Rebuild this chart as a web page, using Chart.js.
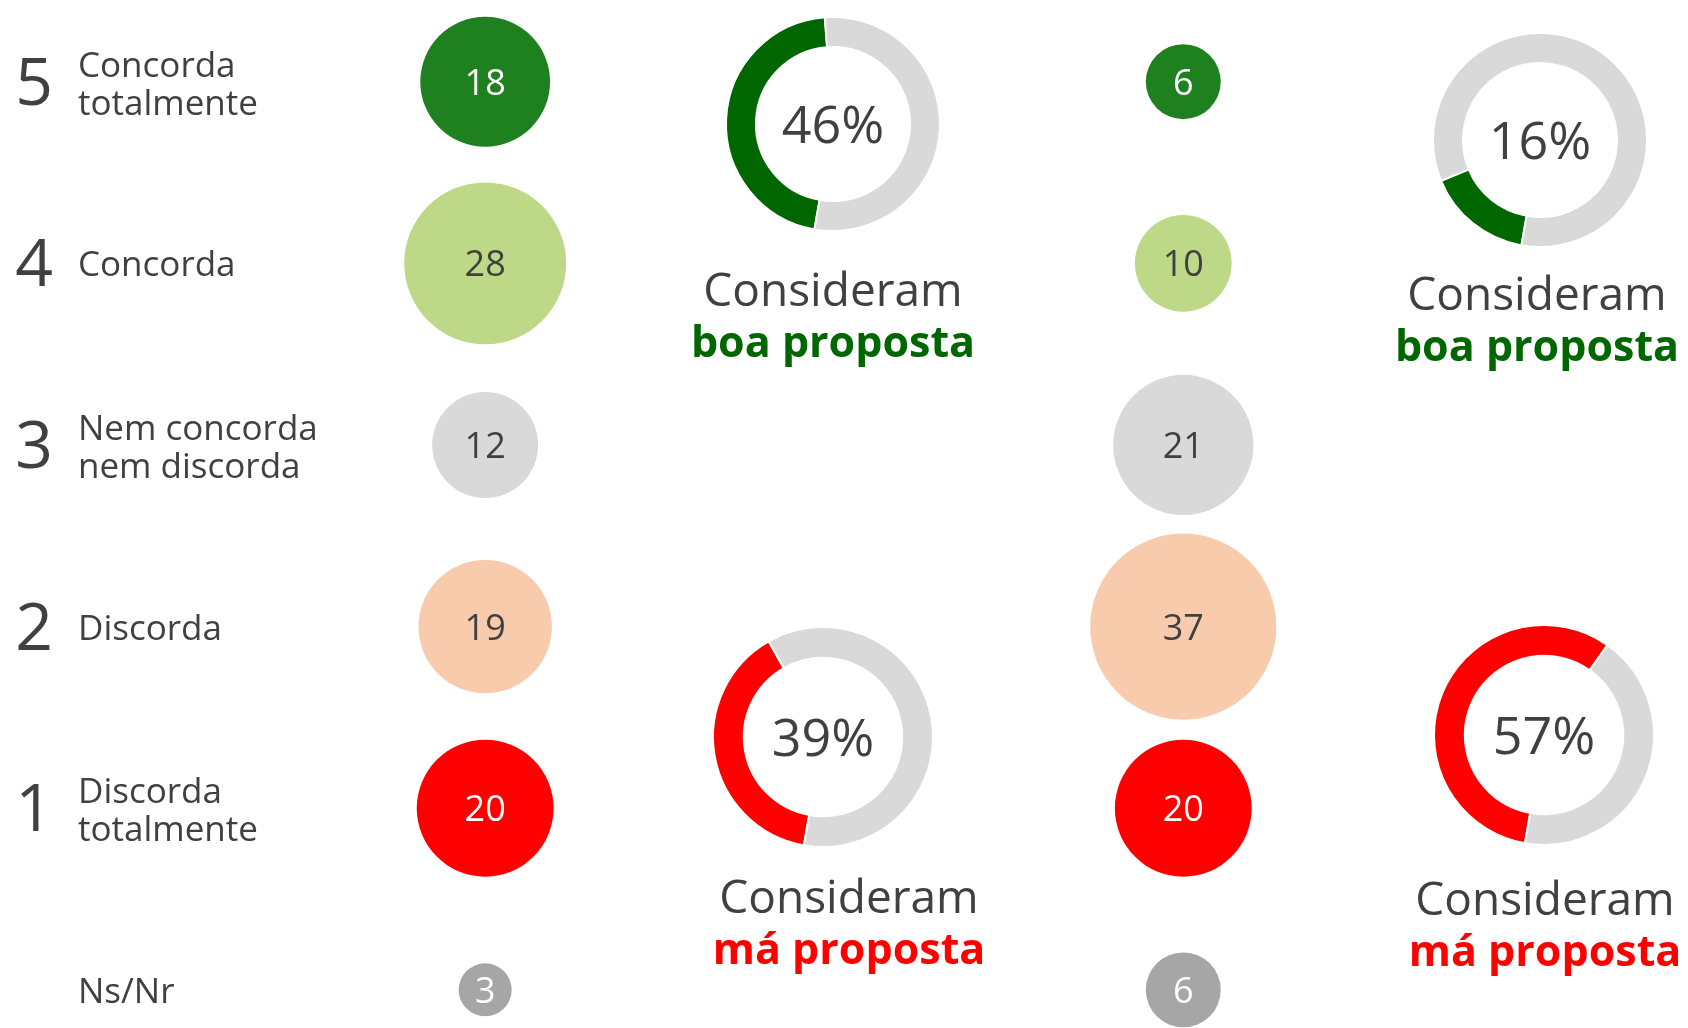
<!DOCTYPE html>
<html lang="pt">
<head>
<meta charset="utf-8">
<title>Proposta</title>
<script src="https://cdn.jsdelivr.net/npm/chart.js@4.4.1/dist/chart.umd.min.js"></script>
<style>
    body { margin: 0; background: #fff; }
    #painel { position: relative; width: 1688px; height: 1028px; overflow: hidden; }
    #painel canvas { position: absolute; }
</style>
</head>
<body>
<div id="painel">
    <canvas id="bolhas" width="1688" height="1028" style="left:0;top:0"></canvas>
    <canvas id="rosca1" width="240" height="240" style="left:713px;top:4px"></canvas>
    <canvas id="rosca2" width="240" height="240" style="left:1420px;top:20px"></canvas>
    <canvas id="rosca3" width="240" height="240" style="left:703px;top:617px"></canvas>
    <canvas id="rosca4" width="240" height="240" style="left:1424px;top:615px"></canvas>
</div>
<script>
// dados
const categorias = [['Concorda', 'totalmente'], ['Concorda'], ['Nem concorda', 'nem discorda'], ['Discorda'], ['Discorda', 'totalmente'], ['Ns/Nr']]
const escala = ['5', '4', '3', '2', '1', '']
const valoresY = [5, 4, 3, 2, 1, 0]
const grupo1 = [18, 28, 12, 19, 20, 3]
const grupo2 = [6, 10, 21, 37, 20, 6]
const boaProposta = [46, 16]
const maProposta = [39, 57]

const coresBolha = ['#1f801f', '#bdd887', '#d9d9d9', '#f8cbad', '#ff0000', '#a6a6a6']
const corTextoBolha = ['#fff', '#404040', '#404040', '#404040', '#fff', '#fff']
const cinza = '#404040'
const fonte = '"Open Sans", sans-serif'

// legendas abaixo das roscas
const legendas = [
    { x: 833, y: 306, txt: 'boa proposta', cor: '#006600' },
    { x: 1537, y: 310, txt: 'boa proposta', cor: '#006600' },
    { x: 849, y: 913, txt: 'má proposta', cor: '#ff0000' },
    { x: 1545, y: 915, txt: 'má proposta', cor: '#ff0000' }
]

const raio = v => 15.3 * Math.sqrt(v)

function pontos(valores, coluna) {
    return valores.map((v, i) => ({ x: coluna, y: valoresY[i], r: raio(v), valor: v }))
}

const textosPlugin = {
    id: 'textos',
    afterDatasetsDraw(chart) {
        const ctx = chart.ctx
        const y = chart.scales.y
        ctx.save()
        ctx.textAlign = 'center'
        ctx.textBaseline = 'alphabetic'
        // valores dentro das bolhas
        chart.data.datasets.forEach((ds, d) => {
            chart.getDatasetMeta(d).data.forEach((el, i) => {
                ctx.font = '36px ' + fonte
                ctx.fillStyle = corTextoBolha[i]
                ctx.fillText(ds.data[i].valor, el.x, el.y + 13)
            })
        })
        // rótulos à esquerda
        valoresY.forEach((v, i) => {
            const py = y.getPixelForValue(v)
            ctx.fillStyle = cinza
            ctx.textAlign = 'center'
            ctx.font = '66px ' + fonte
            if (escala[i]) ctx.fillText(escala[i], 34, py + 23)
            ctx.textAlign = 'left'
            ctx.font = '35px ' + fonte
            const linhas = categorias[i]
            if (linhas.length === 2) {
                ctx.fillText(linhas[0], 78, py - 5)
                ctx.fillText(linhas[1], 78, py + 33)
            } else {
                ctx.fillText(linhas[0], 78, py + 13)
            }
        })
        // legendas das roscas
        ctx.textAlign = 'center'
        legendas.forEach(l => {
            ctx.fillStyle = cinza
            ctx.font = '46px ' + fonte
            ctx.fillText('Consideram', l.x, l.y)
            ctx.fillStyle = l.cor
            ctx.font = 'bold 43px ' + fonte
            ctx.fillText(l.txt, l.x, l.y + 51)
        })
        ctx.restore()
    }
}

new Chart(document.getElementById('bolhas'), {
    type: 'bubble',
    data: {
        datasets: [
            { data: pontos(grupo1, 0), backgroundColor: coresBolha, borderWidth: 0 },
            { data: pontos(grupo2, 1), backgroundColor: coresBolha, borderWidth: 0 }
        ]
    },
    options: {
        responsive: false,
        animation: false,
        layout: { padding: 0, autoPadding: false },
        scales: {
            x: { type: 'linear', display: false, min: -0.695, max: 1.723 },
            y: { type: 'linear', display: false, min: -0.21, max: 5.45 }
        },
        plugins: { legend: { display: false }, tooltip: { enabled: false } }
    },
    plugins: [textosPlugin]
})

const centroPlugin = {
    id: 'centro',
    afterDraw(chart) {
        const arco = chart.getDatasetMeta(0).data[0]
        const ctx = chart.ctx
        ctx.save()
        ctx.fillStyle = cinza
        ctx.font = '52px ' + fonte
        ctx.textAlign = 'center'
        ctx.textBaseline = 'alphabetic'
        ctx.fillText(chart.data.datasets[0].data[0] + '%', arco.x, arco.y + 19)
        ctx.restore()
    }
}

function rosca(id, pct, cor, r) {
    new Chart(document.getElementById(id), {
        type: 'doughnut',
        data: {
            datasets: [{
                data: [pct, 100 - pct],
                backgroundColor: [cor, '#d9d9d9'],
                borderColor: '#fff',
                borderWidth: 2
            }]
        },
        options: {
            responsive: false,
            animation: false,
            rotation: 190,
            radius: r,
            cutout: '72%',
            plugins: { legend: { display: false }, tooltip: { enabled: false } }
        },
        plugins: [centroPlugin]
    })
}

rosca('rosca1', boaProposta[0], '#006600', 107)
rosca('rosca2', boaProposta[1], '#006600', 107)
rosca('rosca3', maProposta[0], '#ff0000', 110)
rosca('rosca4', maProposta[1], '#ff0000', 110)
</script>
</body>
</html>
